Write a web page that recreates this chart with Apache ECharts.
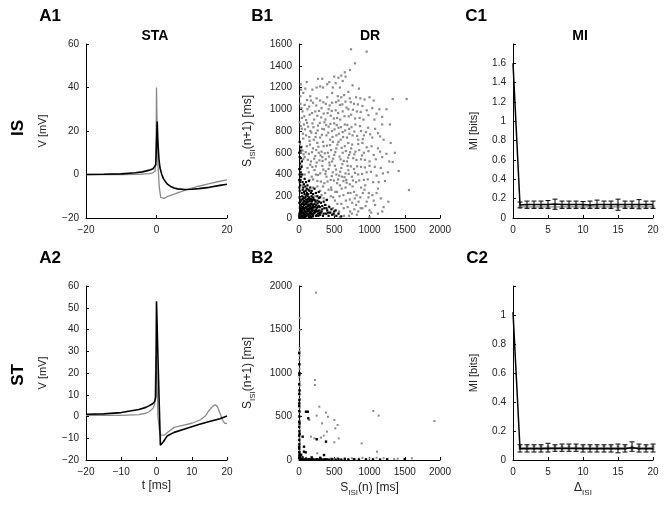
<!DOCTYPE html>
<html><head><meta charset="utf-8">
<script src="https://cdn.jsdelivr.net/npm/echarts@6/dist/echarts.min.js"></script>
<style>html,body{margin:0;padding:0;background:#fff}#c{width:667px;height:507px}</style>
</head><body><div id="c"></div>
<script>
// ---------- DATA ----------
const panelLabels = ['A1','B1','C1','A2','B2','C2'];
const columnTitles = ['STA','DR','MI'];
const rowLabels = ['IS','ST'];

// A1 STA (IS)
const a1GrayT = [-20,-10,-5,-2,-1,-0.4,-0.15,0,0.15,0.4,0.8,1.2,1.6,2.2,3,5,8,10,12,15,18,20];
const a1GrayV = [0,0,0.1,0.4,0.8,1.5,8,40,25,5,-6,-10.5,-11.3,-11,-10.2,-9,-7.3,-6.3,-5.4,-4.2,-3.1,-2.5];
const a1BlackT = [-20,-15,-10,-6,-4,-2,-1,-0.5,-0.2,0,0.2,0.4,0.7,1,1.5,2,3,4,5,6,8,10,12,15,18,20];
const a1BlackV = [0,0.1,0.3,0.8,1.2,2,2.6,3.2,4.5,15,24.3,15,7,3,0,-2,-4.3,-5.5,-6.2,-6.6,-6.9,-6.8,-6.5,-5.9,-5,-4.5];

// A2 STA (ST)
const a2GrayT = [-20,-10,-5,-3,-2,-1,-0.5,-0.3,-0.1,0.1,0.4,0.8,1.2,1.6,2.2,3,5,8,10,12.5,14,15,16,16.7,17.3,18,18.7,19.3,20];
const a2GrayV = [0.5,0.5,0.9,1.5,2.3,3.8,5.5,18,28,20,0,-6,-8.5,-9,-8.6,-7.5,-5,-3.8,-3.1,-1.5,0.5,3,4.8,5.4,4.5,1.5,-1.5,-3,-3.3];
const a2BlackT = [-20,-15,-10,-5,-3,-2,-1,-0.5,-0.2,0,0.5,1.1,1.5,2,3,5,8,10,12,15,18,20];
const a2BlackV = [1,1.2,1.8,3.2,4.2,5,6,7,9,53,22,-13.2,-13,-11.5,-9,-7.3,-5.7,-4.7,-3.7,-2.3,-1,0.2];

// B1 DR (IS) scatter
const b1Gray = [
[738,1551],[960,1530],[794,1422],[723,1361],[650,1340],[1329,1094],[1527,1094],
[30,1180],[60,1150],[20,1120],[90,1190],[160,1120],[250,1200],[270,1280],[300,1210],[340,1200],[400,1230],[430,1250],[480,1200],[520,1240],[560,1290],[600,1310],[620,1260],[470,1150],[550,1120],[600,1110],[640,1130],[700,1160],[720,1100],[810,1110],[870,1100],[930,1090],[1000,1110],[660,1300],
[20,1050],[50,980],[80,1040],[120,1000],[150,950],[40,920],[100,900],[200,1060],[230,980],[260,940],[300,1080],[320,1010],[350,960],[380,1050],[420,1000],[450,940],[470,1060],[520,990],[540,920],[580,1040],[620,980],[660,1070],[700,1000],[740,950],[780,1050],[820,980],[860,920],[900,1030],[960,990],[1040,1010],[1100,960],[1140,1000],[1180,930],[250,1100],[400,1110],[560,1080],[170,1080],
[10,880],[40,820],[70,860],[100,760],[130,840],[160,800],[190,870],[210,720],[240,780],[270,850],[300,740],[330,820],[360,880],[390,760],[420,840],[440,720],[470,800],[500,870],[530,760],[560,830],[590,720],[620,790],[650,860],[680,740],[710,820],[760,760],[800,860],[840,720],[880,800],[920,760],[980,830],[1040,740],[1120,780],[1200,720],[1290,860],[1180,860],[60,730],[150,710],[340,700],[480,700],
[15,680],[50,620],[80,560],[110,660],[140,590],[170,520],[200,640],[230,570],[260,690],[290,530],[320,610],[350,660],[380,540],[410,600],[440,670],[470,520],[500,580],[530,640],[560,700],[590,540],[620,600],[650,660],[680,520],[710,580],[740,640],[770,550],[800,610],[840,680],[880,540],[920,600],[960,650],[1000,520],[1060,580],[1120,640],[1180,560],[1280,520],[1360,600],[1300,690],[700,690],[250,510],[430,510],[900,690],
[120,460],[180,380],[220,440],[260,340],[300,410],[330,480],[360,320],[390,380],[420,450],[450,350],[480,420],[510,480],[540,320],[570,390],[600,460],[630,340],[660,410],[690,480],[720,310],[750,380],[780,450],[810,330],[840,400],[880,470],[920,350],[960,420],[1000,480],[1050,330],[1100,390],[1160,460],[1220,340],[1414,432],[1329,515],[1260,420],[940,300],[700,440],[580,300],
[300,250],[350,180],[380,120],[420,260],[450,200],[480,90],[510,160],[540,240],[570,60],[600,130],[630,210],[660,280],[690,100],[720,170],[750,40],[780,240],[810,120],[840,60],[870,190],[900,90],[930,260],[960,150],[1000,70],[1040,210],[1080,120],[1120,40],[1160,180],[1200,100],[1267,150],[1560,257],[1120,270],[760,290],[820,30],[500,30],[640,20],[260,290],[230,200],[200,280],[880,280],[990,230],
[50,300],[100,250],[150,350],[80,400],[40,480],[20,350],[60,540],[30,600],[190,470],[280,600],[330,560],[140,420],[240,400],[380,430],[460,260],[530,400],[610,380],[670,350],[730,230],[790,180],
[35,1010],[75,935],[115,1085],[145,1025],[185,965],[215,905],[245,1035],[285,985],[315,925],[345,1065],[375,905],[405,965],[435,1035],[465,985],[495,915],[525,1065],[555,965],[585,905],[615,1045],[645,935],[675,1015],[705,935],[735,1065],[765,995],[795,915],[835,1045],[875,975],[915,905],[985,945],[1070,905],
[25,845],[55,775],[85,815],[115,875],[145,745],[175,785],[205,835],[235,745],[265,805],[295,875],[325,765],[355,815],[385,855],[415,785],[445,865],[475,745],[505,815],[535,855],[565,775],[595,835],[625,745],[655,805],[685,855],[715,775],[745,835],[785,795],[825,755],[865,845],[905,725],[950,790],[1010,770],[1080,820],[1150,750],
[35,655],[65,585],[95,605],[125,535],[155,675],[185,605],[215,545],[245,625],[275,655],[305,575],[335,525],[365,595],[395,665],[425,565],[455,625],[485,545],[515,605],[545,675],[575,565],[605,645],[635,525],[665,615],[695,555],[725,605],[755,675],[785,585],[815,535],[855,625],[895,575],[935,535],[985,615],[1030,660],[1090,540],[1150,610],[1240,590],
[160,490],[200,355],[240,475],[270,395],[310,335],[345,445],[375,405],[405,335],[435,485],[465,385],[495,345],[525,445],[555,355],[585,425],[615,495],[645,375],[675,325],[705,405],[735,475],[765,345],[795,415],[825,475],[855,345],[895,405],[935,465],[975,355],[1020,425],[1075,470],[1130,330],[1190,410],
[320,210],[340,290],[370,230],[395,170],[425,110],[455,280],[485,190],[515,240],[545,130],[575,200],[605,270],[635,90],[665,160],[695,230],[725,60],[755,140],[785,80],[815,210],[845,150],[875,90],[905,230],[945,110],[985,190],[1025,50],[1060,160],[1100,230],[1180,60],[710,20],[580,10],[450,50],[400,40],[1000,10],
[25,1230],[110,1250],[190,1180],[330,1280],[500,1300],[580,1200],[760,1220],[850,1190],[1060,1080],[1240,1000]
];
const b1Black = [
[5,20],[10,50],[15,80],[20,10],[25,120],[30,40],[35,160],[40,70],[45,200],[50,20],[55,100],[60,140],[65,50],[70,240],[75,30],[80,180],[85,90],[90,60],[95,130],[100,20],[105,210],[110,80],[115,40],[120,160],[125,110],[130,30],[135,260],[140,70],[145,190],[150,50],[155,120],[160,20],[165,90],[170,230],[175,60],[180,150],[185,40],[190,100],[195,190],[200,30],[210,70],[220,130],[230,50],[240,20],[250,90],[260,160],[270,40],[280,110],[290,70],[300,30],[320,60],[340,20],[360,90],[380,40],[400,70],[420,20],[440,50],[470,30],[500,60],[530,20],[560,40],[600,15],
[10,250],[15,300],[20,350],[25,420],[30,380],[35,470],[40,520],[10,560],[20,620],[30,650],[50,330],[60,280],[45,400],[70,310],[80,360],[90,290],[100,330],[110,270],[120,300],[130,220],[140,340],[160,280],[180,250],[200,220],[220,270],[240,230],[260,200],[280,240],[300,190],[310,140],[330,110],[350,150],
[5,140],[8,190],[12,30],[18,60],[22,170],[28,90],[33,15],[38,230],[42,130],[48,50],[52,260],[58,10],[62,190],[68,120],[72,80],[78,220],[82,10],[88,150],[92,250],[98,100],[102,170],[108,130],[112,230],[118,60],[122,200],[128,80],[132,150],[138,110],[142,10],[148,250],[152,90],[158,170],[162,60],[168,130],[172,10],[178,200],[182,80],[188,160],[192,30],[198,120],[205,180],[215,100],[225,60],[235,150],[245,120],[255,60],[265,100],[275,20],[285,150],[295,100],[310,50],[330,80],[350,40],[370,120],[390,90],[410,50],[430,100],[460,80],[490,40],[520,70],[10,700],[5,450],[15,500],[393,165],
[3,5],[7,35],[13,95],[17,145],[23,25],[27,75],[32,105],[37,55],[43,15],[47,85],[53,175],[57,45],[63,25],[67,95],[73,155],[77,65],[83,125],[87,35],[93,195],[97,55],[103,95],[107,15],[113,145],[117,105],[123,35],[127,175],[133,65],[137,125],[143,85],[147,25],[153,155],[157,45],[163,105],[167,175],[173,85],[177,35],[183,125],[187,65],[193,165],[197,15],[203,95],[213,45],[223,165],[233,105],[243,75],[253,25],[263,135],[273,65],[283,185],[293,45],[8,400],[12,330],[18,450],[25,550],[3,600],[6,280],[4,350]
];

// B2 DR (ST) scatter
const b2Gray = [
[8,1250],[10,1200],[6,1150],[12,1100],[8,1050],[10,1000],[6,950],[12,900],[8,850],[10,800],[6,750],[12,700],[8,650],[10,600],[15,550],[8,500],[12,450],[6,400],[10,350],[14,300],[8,250],[12,200],[6,150],[10,100],[15,50],[10,1287],[10,1494],[10,1632],
[241,1923],[226,920],[226,862],[1054,563],[1130,510],[1920,448],[288,613],[889,191],[1106,96],
[147,460],[251,510],[383,544],[411,497],[501,460],[548,402],[326,421],[515,364],[397,326],[170,268],[218,249],[312,257],[350,280],[501,203],[562,249],[260,77],
[50,10],[100,20],[150,5],[200,15],[250,8],[300,20],[350,12],[400,5],[450,18],[500,10],[550,22],[600,6],[650,15],[700,10],[750,20],[800,8],[850,15],[900,25],[950,10],[1000,18],[1050,12],[1100,25],[1150,8],[1200,20],[1250,10],[1350,12],[1400,15],[1500,10],[1600,20]
];
const b2Black = [
[3,1230],[4,1100],[5,980],[3,870],[4,760],[5,690],[3,620],[4,560],[5,500],[3,440],[4,380],[5,330],[3,280],[4,230],[5,180],[3,130],[4,90],[5,50],[3,20],[6,1000],[7,800],[2,650],[8,420],[9,300],[2,150],[10,70],
[99,555],[125,555],[132,479],[251,238],[383,211],[52,268],[71,153],[71,96],[95,88],[355,57],
[20,5],[40,10],[60,3],[80,8],[100,15],[120,5],[140,10],[160,4],[180,12],[200,6],[220,3],[250,9],[280,5],[310,12],[340,4],[370,8],[400,6],[430,3],[470,10],[520,5],[560,8],[600,3],[650,12],[700,5],[780,8],[850,4],[950,6],[1050,5],[1150,3],[1250,8],[1500,10],[15,40],[30,60],[50,30],[10,25],[180,30],[300,25]
];

// C1 / C2 MI vs Delta_ISI
const deltaISI = [0,1,2,3,4,5,6,7,8,9,10,11,12,13,14,15,16,17,18,19,20];
const c1Black = [1.6,0.135,0.14,0.14,0.14,0.14,0.145,0.14,0.14,0.14,0.14,0.135,0.14,0.14,0.14,0.14,0.14,0.14,0.14,0.14,0.14];
const c1BlackLo = [null,0.105,0.1,0.1,0.1,0.1,0.09,0.1,0.1,0.1,0.1,0.1,0.1,0.1,0.1,0.08,0.1,0.1,0.095,0.1,0.1];
const c1BlackHi = [null,0.165,0.175,0.175,0.175,0.18,0.195,0.175,0.175,0.175,0.17,0.175,0.185,0.175,0.175,0.195,0.175,0.175,0.19,0.175,0.175];
const c1Gray = [null,0.115,0.115,0.115,0.115,0.115,0.115,0.115,0.115,0.115,0.115,0.115,0.115,0.115,0.115,0.115,0.115,0.115,0.115,0.115,0.115];
const c1GrayLo = [null,0.095,0.095,0.095,0.095,0.095,0.095,0.095,0.095,0.095,0.095,0.095,0.095,0.095,0.095,0.095,0.095,0.095,0.095,0.095,0.095];
const c1GrayHi = [null,0.135,0.135,0.135,0.135,0.135,0.135,0.135,0.135,0.135,0.135,0.135,0.135,0.135,0.135,0.135,0.135,0.135,0.135,0.135,0.135];
const c2Black = [1.02,0.078,0.078,0.078,0.078,0.08,0.08,0.08,0.08,0.08,0.078,0.078,0.078,0.078,0.078,0.078,0.078,0.085,0.078,0.078,0.078];
const c2BlackLo = [null,0.055,0.055,0.055,0.055,0.055,0.06,0.06,0.06,0.06,0.055,0.055,0.055,0.055,0.055,0.05,0.055,0.06,0.055,0.055,0.055];
const c2BlackHi = [null,0.105,0.105,0.105,0.105,0.115,0.105,0.11,0.11,0.11,0.105,0.105,0.105,0.105,0.105,0.11,0.105,0.125,0.11,0.105,0.11];
const c2Gray = [null,0.085,0.085,0.085,0.085,0.085,0.085,0.085,0.085,0.085,0.085,0.085,0.085,0.085,0.085,0.085,0.085,0.085,0.085,0.085,0.085];
const c2GrayLo = [null,0.07,0.07,0.07,0.07,0.07,0.07,0.07,0.07,0.07,0.07,0.07,0.07,0.07,0.07,0.07,0.07,0.07,0.07,0.07,0.07];
const c2GrayHi = [null,0.1,0.1,0.1,0.1,0.1,0.1,0.1,0.1,0.1,0.1,0.1,0.1,0.1,0.1,0.1,0.1,0.1,0.1,0.1,0.1];

// ---------- CHART ----------
const FONT = '"Liberation Sans", Arial, Helvetica, sans-serif';
const GRAY = '#8a8a8a';
const zip = (a, b) => a.map((v, i) => [v, b[i]]);
const minusFmt = v => String(v).replace('-', '\u2212');

const grids = [
  {left: 86, top: 44, width: 141, height: 174},
  {left: 299, top: 44, width: 141, height: 174},
  {left: 513, top: 44, width: 140, height: 174},
  {left: 86, top: 286, width: 141, height: 174},
  {left: 299, top: 286, width: 141, height: 174},
  {left: 513, top: 286, width: 140, height: 174}
];

function axisBase(gi, min, max, interval, fmt) {
  return {
    type: 'value', gridIndex: gi, min, max, interval,
    axisLine: {show: true, onZero: false, lineStyle: {color: '#000', width: 1}},
    axisTick: {show: true, inside: true, length: 3, lineStyle: {color: '#000'}},
    splitLine: {show: false},
    axisLabel: {color: '#222', fontSize: 10, fontFamily: FONT, margin: 7, formatter: fmt || (v => minusFmt(v))}
  };
}
const subRich = {
  n: {fontSize: 12, fontFamily: FONT, color: '#222', lineHeight: 18, verticalAlign: 'middle'},
  s: {fontSize: 8, fontFamily: FONT, color: '#222', lineHeight: 8, verticalAlign: 'bottom'}
};
function yName(ax, name, gap, rich) {
  ax.name = name; ax.nameLocation = 'middle'; ax.nameGap = gap; ax.nameRotate = 90;
  ax.nameTextStyle = {fontSize: 11, fontFamily: FONT, color: '#222'};
  if (rich) ax.nameTextStyle.rich = subRich;
  return ax;
}
function xName(ax, name, gap, rich) {
  ax.name = name; ax.nameLocation = 'middle'; ax.nameGap = gap;
  ax.nameTextStyle = {fontSize: 12, fontFamily: FONT, color: '#222'};
  if (rich) ax.nameTextStyle.rich = subRich;
  return ax;
}

const xAxes = [
  axisBase(0, -20, 20, 20),
  axisBase(1, 0, 2000, 500),
  axisBase(2, 0, 20, 5),
  xName(axisBase(3, -20, 20, 10), 't [ms]', 20),
  xName(axisBase(4, 0, 2000, 500), '{n|S}{s|ISI}{n|(n) [ms]}', 19, true),
  xName(axisBase(5, 0, 20, 5), '{n|\u0394}{s|ISI}', 19, true)
];
const yAxes = [
  yName(axisBase(0, -20, 60, 20), 'V [mV]', 38),
  yName(axisBase(1, 0, 1600, 200), '{n|S}{s|ISI}{n|(n+1) [ms]}', 42, true),
  yName(axisBase(2, 0, 1.8, 0.2, v => v > 1.7 ? '' : String(+v.toFixed(1))), 'MI [bits]', 34),
  yName(axisBase(3, -20, 60, 10), 'V [mV]', 38),
  yName(axisBase(4, 0, 2000, 500), '{n|S}{s|ISI}{n|(n+1) [ms]}', 42, true),
  yName(axisBase(5, 0, 1.2, 0.2, v => v > 1.1 ? '' : String(+v.toFixed(1))), 'MI [bits]', 34)
];

function lineS(gi, data, color, width) {
  return {type: 'line', xAxisIndex: gi, yAxisIndex: gi, data, showSymbol: false, symbol: 'none',
    lineStyle: {color, width}, itemStyle: {color}, connectNulls: false, z: color === '#000' ? 3 : 2};
}
function scatterS(gi, data, color, size) {
  return {type: 'scatter', xAxisIndex: gi, yAxisIndex: gi, data, symbol: 'rect', symbolSize: size,
    itemStyle: {color, opacity: 1}, z: color === '#000' ? 3 : 2};
}
function errS(gi, x, lo, hi, color, width, cap) {
  const data = [];
  x.forEach((v, i) => { if (lo[i] != null) data.push([v, lo[i], hi[i]]); });
  return {
    type: 'custom', xAxisIndex: gi, yAxisIndex: gi, data, encode: {x: 0, y: [1, 2]}, z: color === '#000' ? 4 : 2,
    renderItem: (params, api) => {
      const a = api.coord([api.value(0), api.value(1)]);
      const b = api.coord([api.value(0), api.value(2)]);
      const st = {stroke: color, lineWidth: width};
      const ch = [{type: 'line', shape: {x1: a[0], y1: a[1], x2: b[0], y2: b[1]}, style: st}];
      if (cap) {
        ch.push({type: 'line', shape: {x1: a[0] - cap, y1: a[1], x2: a[0] + cap, y2: a[1]}, style: {stroke: color, lineWidth: 1}});
        ch.push({type: 'line', shape: {x1: b[0] - cap, y1: b[1], x2: b[0] + cap, y2: b[1]}, style: {stroke: color, lineWidth: 1}});
      }
      return {type: 'group', children: ch};
    }
  };
}

const series = [
  lineS(0, zip(a1GrayT, a1GrayV), GRAY, 1.3),
  lineS(0, zip(a1BlackT, a1BlackV), '#000', 1.6),
  scatterS(1, b1Gray, GRAY, 2.2),
  scatterS(1, b1Black, '#000', 2.2),
  errS(2, deltaISI, c1GrayLo, c1GrayHi, '#9a9a9a', 3, 0),
  lineS(2, zip(deltaISI, c1Gray), GRAY, 1.2),
  errS(2, deltaISI, c1BlackLo, c1BlackHi, '#000', 1, 2.5),
  lineS(2, zip(deltaISI, c1Black), '#000', 1.5),
  lineS(3, zip(a2GrayT, a2GrayV), GRAY, 1.3),
  lineS(3, zip(a2BlackT, a2BlackV), '#000', 1.6),
  scatterS(4, b2Gray, GRAY, 2),
  scatterS(4, b2Black, '#000', 2.4),
  errS(5, deltaISI, c2GrayLo, c2GrayHi, '#9a9a9a', 3, 0),
  lineS(5, zip(deltaISI, c2Gray), GRAY, 1.2),
  errS(5, deltaISI, c2BlackLo, c2BlackHi, '#000', 1, 2.5),
  lineS(5, zip(deltaISI, c2Black), '#000', 1.5)
];

const labelPos = [[50,16],[262,16],[476,16],[50,258],[262,258],[477,258]];
const titlePos = [[155,36],[370,36],[580,36]];
const rowPos = [[18,128],[18,375]];
const graphic = [];
panelLabels.forEach((t, i) => graphic.push({type: 'text', x: labelPos[i][0], y: labelPos[i][1],
  style: {text: t, font: 'bold 17px ' + FONT, fill: '#000', textAlign: 'center', textVerticalAlign: 'middle'}}));
columnTitles.forEach((t, i) => graphic.push({type: 'text', x: titlePos[i][0], y: titlePos[i][1],
  style: {text: t, font: 'bold 14px ' + FONT, fill: '#000', textAlign: 'center', textVerticalAlign: 'middle'}}));
rowLabels.forEach((t, i) => graphic.push({type: 'text', x: rowPos[i][0], y: rowPos[i][1], rotation: Math.PI / 2,
  style: {text: t, font: 'bold 17px ' + FONT, fill: '#000', textAlign: 'center', textVerticalAlign: 'middle'}}));

const chart = echarts.init(document.getElementById('c'), null, {renderer: 'canvas'});
chart.setOption({
  animation: false,
  backgroundColor: '#fff',
  grid: grids,
  xAxis: xAxes,
  yAxis: yAxes,
  series,
  graphic
});
</script></body></html>
